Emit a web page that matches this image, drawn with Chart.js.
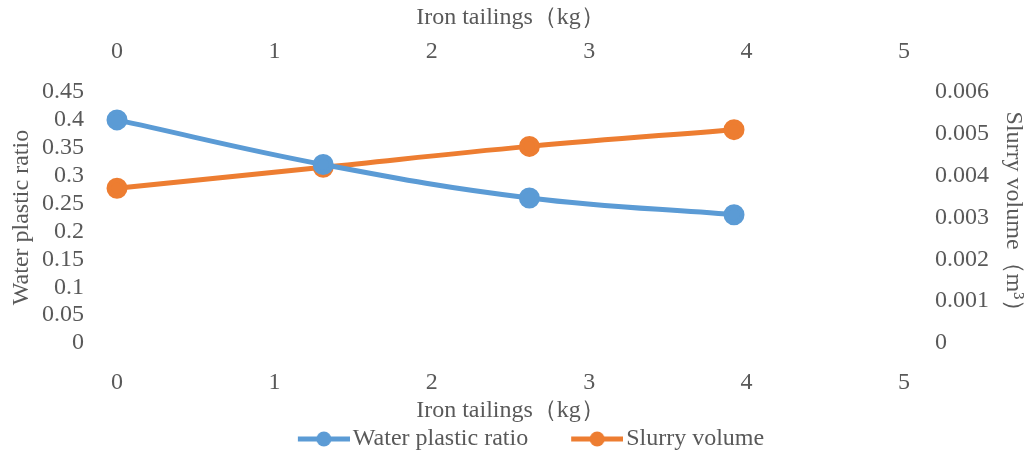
<!DOCTYPE html>
<html>
<head>
<meta charset="utf-8">
<script src="https://cdn.jsdelivr.net/npm/chart.js@4/dist/chart.umd.min.js"></script>
<style>
  html, body { margin: 0; padding: 0; background: #ffffff; }
  #wrap { width: 1029px; height: 461px; position: relative; }
</style>
</head>
<body>
<div id="wrap"><canvas id="c"></canvas></div>
<script>
// ---- data ----
const ironTailings = [0, 1.31, 2.62, 3.92];
const waterPlasticRatio = [0.40, 0.32, 0.26, 0.23];
const slurryVolume = [0.0037, 0.0042, 0.0047, 0.0051];
const seriesNames = ['Water plastic ratio', 'Slurry volume'];
const xTitle = 'Iron tailings（kg）';
const yLeftTitle = 'Water plastic ratio';
const yRightTitle = 'Slurry volume（m³）';

const BLUE = '#5B9BD5';
const ORANGE = '#ED7D31';
const TEXT = '#595959';
const FONT = '"Liberation Serif", "Times New Roman", serif';
const FS = 24;

function legendIcon(color) {
  const c = document.createElement('canvas');
  c.width = 94; c.height = 18;
  const g = c.getContext('2d');
  g.strokeStyle = color; g.lineWidth = 5;
  g.beginPath(); g.moveTo(42, 9); g.lineTo(94, 9); g.stroke();
  g.fillStyle = color;
  g.beginPath(); g.arc(68, 9, 7.5, 0, Math.PI * 2); g.fill();
  return c;
}
const icons = [legendIcon(BLUE), legendIcon(ORANGE)];

const fmt = v => String(+Number(v).toFixed(4));
const tickFont = { family: FONT, size: FS };

new Chart(document.getElementById('c'), {
  type: 'line',
  data: {
    datasets: [
      {
        label: seriesNames[0],
        data: ironTailings.map((x, i) => ({ x, y: waterPlasticRatio[i] })),
        borderColor: BLUE, backgroundColor: BLUE,
        borderWidth: 5, pointRadius: 8, pointHoverRadius: 8,
        tension: 0.4, xAxisID: 'x', yAxisID: 'y', clip: false
      },
      {
        label: seriesNames[1],
        data: ironTailings.map((x, i) => ({ x, y: slurryVolume[i] })),
        borderColor: ORANGE, backgroundColor: ORANGE,
        borderWidth: 5, pointRadius: 8, pointHoverRadius: 8,
        tension: 0.4, xAxisID: 'x', yAxisID: 'y1', clip: false
      }
    ]
  },
  options: {
    responsive: true,
    maintainAspectRatio: false,
    animation: false,
    layout: { padding: 0 },
    plugins: {
      tooltip: { enabled: false },
      legend: {
        position: 'bottom',
        labels: {
          usePointStyle: true,
          pointStyleWidth: 76,
          padding: 10,
          color: TEXT,
          font: { family: FONT, size: FS },
          generateLabels: chart => {
            const items = Chart.defaults.plugins.legend.labels.generateLabels(chart);
            items.forEach((it, i) => { it.pointStyle = icons[i]; });
            return items;
          }
        }
      }
    },
    scales: {
      x: {
        type: 'linear', position: 'bottom', min: 0, max: 5,
        grid: { display: false }, border: { display: false },
        ticks: { stepSize: 1, color: TEXT, font: tickFont, padding: 17.6, maxRotation: 0, autoSkip: false },
        title: { display: true, text: xTitle, color: TEXT, font: { family: FONT, size: FS, lineHeight: 0.5 }, padding: { top: 0, bottom: 0 } },
        afterFit: s => { s.height = 74; }
      },
      x2: {
        type: 'linear', position: 'top', min: 0, max: 5,
        grid: { display: false }, border: { display: false },
        ticks: { stepSize: 1, color: TEXT, font: tickFont, padding: 17.6, maxRotation: 0, autoSkip: false },
        title: { display: true, text: xTitle, color: TEXT, font: { family: FONT, size: FS }, padding: { top: 3.6, bottom: 0 } },
        afterFit: s => { s.height = 92; }
      },
      y: {
        type: 'linear', position: 'left', min: 0, max: 0.45,
        grid: { display: false }, border: { display: false },
        ticks: { stepSize: 0.05, color: TEXT, font: tickFont, padding: 25, callback: fmt, autoSkip: false },
        title: { display: true, text: yLeftTitle, color: TEXT, font: { family: FONT, size: FS }, padding: { top: 7.6, bottom: 0 } },
        afterFit: s => { s.width = 117; }
      },
      y1: {
        type: 'linear', position: 'right', min: 0, max: 0.006,
        grid: { display: false }, border: { display: false },
        ticks: { stepSize: 0.001, color: TEXT, font: tickFont, padding: 23, callback: fmt, autoSkip: false },
        title: { display: true, text: yRightTitle, color: TEXT, font: { family: FONT, size: FS }, padding: { top: 1.6, bottom: 0 } },
        afterFit: s => { s.width = 125; }
      }
    }
  }
});
</script>
</body>
</html>
